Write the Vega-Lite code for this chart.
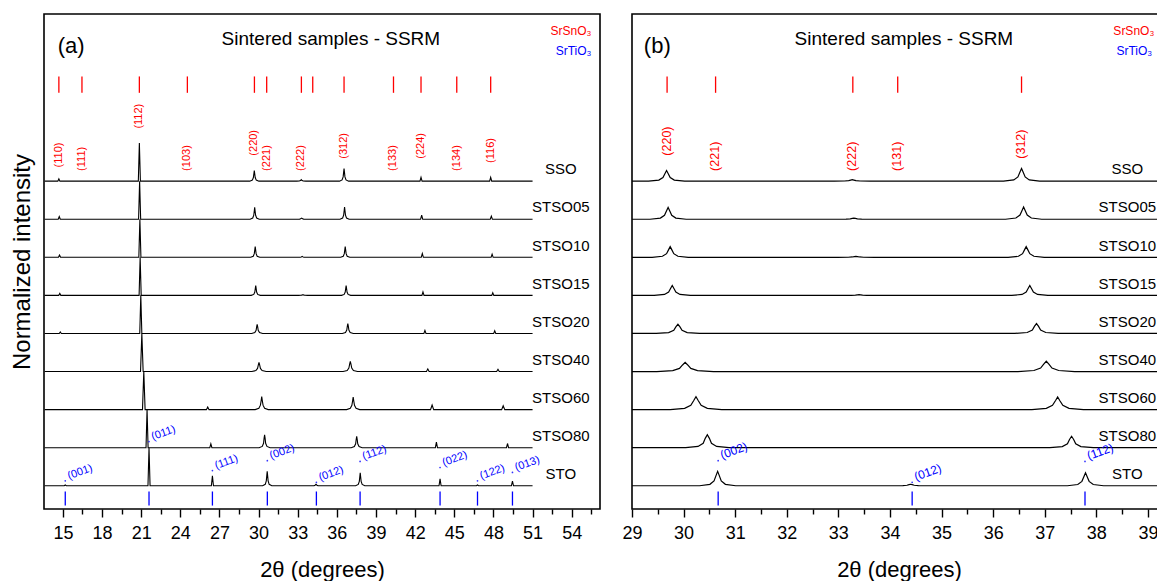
{
"$schema": "https://vega.github.io/schema/vega-lite/v6.json",
"background": "white",
"padding": {"left": 9, "top": 13, "right": -10, "bottom": 0},
"spacing": 20,
"config": {
  "view": {"stroke": "black", "strokeWidth": 1.6},
  "axis": {"domain": false, "grid": false, "tickColor": "black", "tickWidth": 1.4, "labelColor": "black", "titleColor": "black", "labelFont": "Liberation Sans", "titleFont": "Liberation Sans", "titleFontWeight": "normal", "labelFlush": false, "labelOverlap": false},
  "text": {"font": "Liberation Sans"}
},
"datasets": {
"spec": [
{"s":"SSO","x":13.6,"y":8.61},{"s":"SSO","x":14.61,"y":8.61},{"s":"SSO","x":14.69,"y":8.67},{"s":"SSO","x":14.77,"y":8.61},{"s":"SSO","x":20.78,"y":8.61},{"s":"SSO","x":20.86,"y":9.61},{"s":"SSO","x":20.94,"y":8.61},{"s":"SSO","x":29.32,"y":8.61},{"s":"SSO","x":29.52,"y":8.638},{"s":"SSO","x":29.60,"y":8.705},{"s":"SSO","x":29.64,"y":8.812},{"s":"SSO","x":29.67,"y":8.89},{"s":"SSO","x":29.70,"y":8.812},{"s":"SSO","x":29.74,"y":8.705},{"s":"SSO","x":29.82,"y":8.638},{"s":"SSO","x":30.02,"y":8.61},{"s":"SSO","x":32.92,"y":8.61},{"s":"SSO","x":33.12,"y":8.614},{"s":"SSO","x":33.20,"y":8.624},{"s":"SSO","x":33.24,"y":8.639},{"s":"SSO","x":33.27,"y":8.65},{"s":"SSO","x":33.30,"y":8.639},{"s":"SSO","x":33.34,"y":8.624},{"s":"SSO","x":33.42,"y":8.614},{"s":"SSO","x":33.62,"y":8.61},{"s":"SSO","x":36.20,"y":8.61},{"s":"SSO","x":36.40,"y":8.643},{"s":"SSO","x":36.48,"y":8.722},{"s":"SSO","x":36.52,"y":8.848},{"s":"SSO","x":36.55,"y":8.94},{"s":"SSO","x":36.58,"y":8.848},{"s":"SSO","x":36.62,"y":8.722},{"s":"SSO","x":36.70,"y":8.643},{"s":"SSO","x":36.90,"y":8.61},{"s":"SSO","x":42.37,"y":8.61},{"s":"SSO","x":42.45,"y":8.71},{"s":"SSO","x":42.53,"y":8.61},{"s":"SSO","x":47.71,"y":8.61},{"s":"SSO","x":47.79,"y":8.71},{"s":"SSO","x":47.87,"y":8.61},{"s":"SSO","x":51.0,"y":8.61},
{"s":"STSO05","x":13.6,"y":7.61},{"s":"STSO05","x":14.64,"y":7.61},{"s":"STSO05","x":14.72,"y":7.68},{"s":"STSO05","x":14.80,"y":7.61},{"s":"STSO05","x":20.80,"y":7.61},{"s":"STSO05","x":20.88,"y":8.61},{"s":"STSO05","x":20.96,"y":7.61},{"s":"STSO05","x":29.35,"y":7.61},{"s":"STSO05","x":29.55,"y":7.641},{"s":"STSO05","x":29.63,"y":7.715},{"s":"STSO05","x":29.67,"y":7.833},{"s":"STSO05","x":29.70,"y":7.92},{"s":"STSO05","x":29.73,"y":7.833},{"s":"STSO05","x":29.77,"y":7.715},{"s":"STSO05","x":29.85,"y":7.641},{"s":"STSO05","x":30.05,"y":7.61},{"s":"STSO05","x":32.95,"y":7.61},{"s":"STSO05","x":33.15,"y":7.613},{"s":"STSO05","x":33.23,"y":7.62},{"s":"STSO05","x":33.27,"y":7.632},{"s":"STSO05","x":33.30,"y":7.64},{"s":"STSO05","x":33.33,"y":7.632},{"s":"STSO05","x":33.37,"y":7.62},{"s":"STSO05","x":33.45,"y":7.613},{"s":"STSO05","x":33.65,"y":7.61},{"s":"STSO05","x":36.24,"y":7.61},{"s":"STSO05","x":36.44,"y":7.642},{"s":"STSO05","x":36.52,"y":7.719},{"s":"STSO05","x":36.56,"y":7.84},{"s":"STSO05","x":36.59,"y":7.93},{"s":"STSO05","x":36.62,"y":7.84},{"s":"STSO05","x":36.66,"y":7.719},{"s":"STSO05","x":36.74,"y":7.642},{"s":"STSO05","x":36.94,"y":7.61},{"s":"STSO05","x":42.42,"y":7.61},{"s":"STSO05","x":42.50,"y":7.72},{"s":"STSO05","x":42.58,"y":7.61},{"s":"STSO05","x":47.76,"y":7.61},{"s":"STSO05","x":47.84,"y":7.69},{"s":"STSO05","x":47.92,"y":7.61},{"s":"STSO05","x":51.0,"y":7.61},
{"s":"STSO10","x":13.6,"y":6.61},{"s":"STSO10","x":14.66,"y":6.61},{"s":"STSO10","x":14.74,"y":6.67},{"s":"STSO10","x":14.82,"y":6.61},{"s":"STSO10","x":20.82,"y":6.61},{"s":"STSO10","x":20.90,"y":7.61},{"s":"STSO10","x":20.98,"y":6.61},{"s":"STSO10","x":29.39,"y":6.61},{"s":"STSO10","x":29.59,"y":6.638},{"s":"STSO10","x":29.67,"y":6.705},{"s":"STSO10","x":29.71,"y":6.812},{"s":"STSO10","x":29.74,"y":6.89},{"s":"STSO10","x":29.77,"y":6.812},{"s":"STSO10","x":29.81,"y":6.705},{"s":"STSO10","x":29.89,"y":6.638},{"s":"STSO10","x":30.09,"y":6.61},{"s":"STSO10","x":32.99,"y":6.61},{"s":"STSO10","x":33.19,"y":6.612},{"s":"STSO10","x":33.27,"y":6.619},{"s":"STSO10","x":33.31,"y":6.628},{"s":"STSO10","x":33.34,"y":6.635},{"s":"STSO10","x":33.37,"y":6.628},{"s":"STSO10","x":33.41,"y":6.619},{"s":"STSO10","x":33.49,"y":6.612},{"s":"STSO10","x":33.69,"y":6.61},{"s":"STSO10","x":36.29,"y":6.61},{"s":"STSO10","x":36.49,"y":6.638},{"s":"STSO10","x":36.57,"y":6.705},{"s":"STSO10","x":36.61,"y":6.812},{"s":"STSO10","x":36.64,"y":6.89},{"s":"STSO10","x":36.67,"y":6.812},{"s":"STSO10","x":36.71,"y":6.705},{"s":"STSO10","x":36.79,"y":6.638},{"s":"STSO10","x":36.99,"y":6.61},{"s":"STSO10","x":42.47,"y":6.61},{"s":"STSO10","x":42.55,"y":6.71},{"s":"STSO10","x":42.63,"y":6.61},{"s":"STSO10","x":47.82,"y":6.61},{"s":"STSO10","x":47.90,"y":6.69},{"s":"STSO10","x":47.98,"y":6.61},{"s":"STSO10","x":51.0,"y":6.61},
{"s":"STSO15","x":13.6,"y":5.61},{"s":"STSO15","x":14.68,"y":5.61},{"s":"STSO15","x":14.76,"y":5.66},{"s":"STSO15","x":14.84,"y":5.61},{"s":"STSO15","x":20.84,"y":5.61},{"s":"STSO15","x":20.92,"y":6.61},{"s":"STSO15","x":21.00,"y":5.61},{"s":"STSO15","x":29.43,"y":5.61},{"s":"STSO15","x":29.63,"y":5.636},{"s":"STSO15","x":29.71,"y":5.698},{"s":"STSO15","x":29.75,"y":5.797},{"s":"STSO15","x":29.78,"y":5.87},{"s":"STSO15","x":29.81,"y":5.797},{"s":"STSO15","x":29.85,"y":5.698},{"s":"STSO15","x":29.93,"y":5.636},{"s":"STSO15","x":30.13,"y":5.61},{"s":"STSO15","x":33.05,"y":5.61},{"s":"STSO15","x":33.25,"y":5.612},{"s":"STSO15","x":33.33,"y":5.617},{"s":"STSO15","x":33.37,"y":5.624},{"s":"STSO15","x":33.40,"y":5.63},{"s":"STSO15","x":33.43,"y":5.624},{"s":"STSO15","x":33.47,"y":5.617},{"s":"STSO15","x":33.55,"y":5.612},{"s":"STSO15","x":33.75,"y":5.61},{"s":"STSO15","x":36.36,"y":5.61},{"s":"STSO15","x":36.56,"y":5.636},{"s":"STSO15","x":36.64,"y":5.698},{"s":"STSO15","x":36.68,"y":5.797},{"s":"STSO15","x":36.71,"y":5.87},{"s":"STSO15","x":36.74,"y":5.797},{"s":"STSO15","x":36.78,"y":5.698},{"s":"STSO15","x":36.86,"y":5.636},{"s":"STSO15","x":37.06,"y":5.61},{"s":"STSO15","x":42.52,"y":5.61},{"s":"STSO15","x":42.60,"y":5.70},{"s":"STSO15","x":42.68,"y":5.61},{"s":"STSO15","x":47.87,"y":5.61},{"s":"STSO15","x":47.95,"y":5.68},{"s":"STSO15","x":48.03,"y":5.61},{"s":"STSO15","x":51.0,"y":5.61},
{"s":"STSO20","x":13.6,"y":4.61},{"s":"STSO20","x":14.72,"y":4.61},{"s":"STSO20","x":14.80,"y":4.65},{"s":"STSO20","x":14.88,"y":4.61},{"s":"STSO20","x":20.89,"y":4.61},{"s":"STSO20","x":20.97,"y":5.61},{"s":"STSO20","x":21.05,"y":4.61},{"s":"STSO20","x":29.47,"y":4.61},{"s":"STSO20","x":29.71,"y":4.634},{"s":"STSO20","x":29.81,"y":4.692},{"s":"STSO20","x":29.85,"y":4.783},{"s":"STSO20","x":29.89,"y":4.85},{"s":"STSO20","x":29.93,"y":4.783},{"s":"STSO20","x":29.97,"y":4.692},{"s":"STSO20","x":30.07,"y":4.634},{"s":"STSO20","x":30.31,"y":4.61},{"s":"STSO20","x":36.42,"y":4.61},{"s":"STSO20","x":36.66,"y":4.636},{"s":"STSO20","x":36.76,"y":4.698},{"s":"STSO20","x":36.80,"y":4.797},{"s":"STSO20","x":36.84,"y":4.87},{"s":"STSO20","x":36.88,"y":4.797},{"s":"STSO20","x":36.92,"y":4.698},{"s":"STSO20","x":37.02,"y":4.636},{"s":"STSO20","x":37.26,"y":4.61},{"s":"STSO20","x":42.67,"y":4.61},{"s":"STSO20","x":42.75,"y":4.69},{"s":"STSO20","x":42.83,"y":4.61},{"s":"STSO20","x":48.02,"y":4.61},{"s":"STSO20","x":48.10,"y":4.68},{"s":"STSO20","x":48.18,"y":4.61},{"s":"STSO20","x":51.0,"y":4.61},
{"s":"STSO40","x":13.6,"y":3.61},{"s":"STSO40","x":20.95,"y":3.61},{"s":"STSO40","x":21.05,"y":4.61},{"s":"STSO40","x":21.15,"y":3.61},{"s":"STSO40","x":29.48,"y":3.61},{"s":"STSO40","x":29.79,"y":3.634},{"s":"STSO40","x":29.92,"y":3.692},{"s":"STSO40","x":29.98,"y":3.783},{"s":"STSO40","x":30.03,"y":3.85},{"s":"STSO40","x":30.08,"y":3.783},{"s":"STSO40","x":30.14,"y":3.692},{"s":"STSO40","x":30.27,"y":3.634},{"s":"STSO40","x":30.58,"y":3.61},{"s":"STSO40","x":36.48,"y":3.61},{"s":"STSO40","x":36.79,"y":3.637},{"s":"STSO40","x":36.92,"y":3.702},{"s":"STSO40","x":36.98,"y":3.804},{"s":"STSO40","x":37.03,"y":3.88},{"s":"STSO40","x":37.08,"y":3.804},{"s":"STSO40","x":37.14,"y":3.702},{"s":"STSO40","x":37.27,"y":3.637},{"s":"STSO40","x":37.58,"y":3.61},{"s":"STSO40","x":42.87,"y":3.61},{"s":"STSO40","x":42.97,"y":3.68},{"s":"STSO40","x":43.07,"y":3.61},{"s":"STSO40","x":48.25,"y":3.61},{"s":"STSO40","x":48.35,"y":3.67},{"s":"STSO40","x":48.45,"y":3.61},{"s":"STSO40","x":51.0,"y":3.61},
{"s":"STSO60","x":13.6,"y":2.61},{"s":"STSO60","x":21.10,"y":2.61},{"s":"STSO60","x":21.20,"y":3.61},{"s":"STSO60","x":21.30,"y":2.61},{"s":"STSO60","x":26.00,"y":2.61},{"s":"STSO60","x":26.10,"y":2.68},{"s":"STSO60","x":26.20,"y":2.61},{"s":"STSO60","x":29.74,"y":2.61},{"s":"STSO60","x":30.02,"y":2.644},{"s":"STSO60","x":30.14,"y":2.726},{"s":"STSO60","x":30.20,"y":2.855},{"s":"STSO60","x":30.24,"y":2.95},{"s":"STSO60","x":30.28,"y":2.855},{"s":"STSO60","x":30.34,"y":2.726},{"s":"STSO60","x":30.46,"y":2.644},{"s":"STSO60","x":30.74,"y":2.61},{"s":"STSO60","x":36.75,"y":2.61},{"s":"STSO60","x":37.03,"y":2.643},{"s":"STSO60","x":37.15,"y":2.722},{"s":"STSO60","x":37.21,"y":2.848},{"s":"STSO60","x":37.25,"y":2.94},{"s":"STSO60","x":37.29,"y":2.848},{"s":"STSO60","x":37.35,"y":2.722},{"s":"STSO60","x":37.47,"y":2.643},{"s":"STSO60","x":37.75,"y":2.61},{"s":"STSO60","x":43.18,"y":2.61},{"s":"STSO60","x":43.30,"y":2.73},{"s":"STSO60","x":43.42,"y":2.61},{"s":"STSO60","x":48.63,"y":2.61},{"s":"STSO60","x":48.75,"y":2.71},{"s":"STSO60","x":48.87,"y":2.61},{"s":"STSO60","x":51.0,"y":2.61},
{"s":"STSO80","x":13.6,"y":1.61},{"s":"STSO80","x":21.37,"y":1.61},{"s":"STSO80","x":21.45,"y":2.61},{"s":"STSO80","x":21.53,"y":1.61},{"s":"STSO80","x":26.26,"y":1.61},{"s":"STSO80","x":26.34,"y":1.71},{"s":"STSO80","x":26.42,"y":1.61},{"s":"STSO80","x":30.04,"y":1.61},{"s":"STSO80","x":30.28,"y":1.644},{"s":"STSO80","x":30.38,"y":1.726},{"s":"STSO80","x":30.42,"y":1.855},{"s":"STSO80","x":30.46,"y":1.95},{"s":"STSO80","x":30.50,"y":1.855},{"s":"STSO80","x":30.54,"y":1.726},{"s":"STSO80","x":30.64,"y":1.644},{"s":"STSO80","x":30.88,"y":1.61},{"s":"STSO80","x":37.10,"y":1.61},{"s":"STSO80","x":37.34,"y":1.64},{"s":"STSO80","x":37.44,"y":1.712},{"s":"STSO80","x":37.48,"y":1.826},{"s":"STSO80","x":37.52,"y":1.91},{"s":"STSO80","x":37.56,"y":1.826},{"s":"STSO80","x":37.60,"y":1.712},{"s":"STSO80","x":37.70,"y":1.64},{"s":"STSO80","x":37.94,"y":1.61},{"s":"STSO80","x":43.55,"y":1.61},{"s":"STSO80","x":43.63,"y":1.76},{"s":"STSO80","x":43.71,"y":1.61},{"s":"STSO80","x":49.00,"y":1.61},{"s":"STSO80","x":49.08,"y":1.72},{"s":"STSO80","x":49.16,"y":1.61},{"s":"STSO80","x":51.0,"y":1.61},
{"s":"STO","x":13.6,"y":0.61},{"s":"STO","x":15.10,"y":0.61},{"s":"STO","x":15.18,"y":0.63},{"s":"STO","x":15.26,"y":0.61},{"s":"STO","x":21.52,"y":0.61},{"s":"STO","x":21.60,"y":1.61},{"s":"STO","x":21.68,"y":0.61},{"s":"STO","x":26.38,"y":0.61},{"s":"STO","x":26.46,"y":0.87},{"s":"STO","x":26.54,"y":0.61},{"s":"STO","x":30.31,"y":0.61},{"s":"STO","x":30.51,"y":0.648},{"s":"STO","x":30.59,"y":0.739},{"s":"STO","x":30.63,"y":0.884},{"s":"STO","x":30.66,"y":0.99},{"s":"STO","x":30.69,"y":0.884},{"s":"STO","x":30.73,"y":0.739},{"s":"STO","x":30.81,"y":0.648},{"s":"STO","x":31.01,"y":0.61},{"s":"STO","x":34.05,"y":0.61},{"s":"STO","x":34.25,"y":0.614},{"s":"STO","x":34.33,"y":0.624},{"s":"STO","x":34.37,"y":0.639},{"s":"STO","x":34.40,"y":0.65},{"s":"STO","x":34.43,"y":0.639},{"s":"STO","x":34.47,"y":0.624},{"s":"STO","x":34.55,"y":0.614},{"s":"STO","x":34.75,"y":0.61},{"s":"STO","x":37.44,"y":0.61},{"s":"STO","x":37.64,"y":0.644},{"s":"STO","x":37.72,"y":0.726},{"s":"STO","x":37.76,"y":0.855},{"s":"STO","x":37.79,"y":0.95},{"s":"STO","x":37.82,"y":0.855},{"s":"STO","x":37.86,"y":0.726},{"s":"STO","x":37.94,"y":0.644},{"s":"STO","x":38.14,"y":0.61},{"s":"STO","x":43.83,"y":0.61},{"s":"STO","x":43.91,"y":0.79},{"s":"STO","x":43.99,"y":0.61},{"s":"STO","x":46.70,"y":0.61},{"s":"STO","x":46.78,"y":0.63},{"s":"STO","x":46.86,"y":0.61},{"s":"STO","x":49.38,"y":0.61},{"s":"STO","x":49.46,"y":0.73},{"s":"STO","x":49.54,"y":0.61},{"s":"STO","x":51.0,"y":0.61}
],
"red": [{"x":14.69},{"x":16.46},{"x":20.86},{"x":24.54},{"x":29.68},{"x":30.62},{"x":33.28},{"x":34.15},{"x":36.55},{"x":40.34},{"x":42.45},{"x":45.19},{"x":47.79}],
"blue": [{"x":15.18},{"x":21.60},{"x":26.46},{"x":30.67},{"x":34.43},{"x":37.78},{"x":43.91},{"x":46.78},{"x":49.46}],
"redLabA": [{"x":14.69,"y":8.97,"t":"(110)"},{"x":16.46,"y":8.88,"t":"(111)"},{"x":20.86,"y":9.99,"t":"(112)"},{"x":24.54,"y":8.88,"t":"(103)"},{"x":29.68,"y":9.28,"t":"(220)"},{"x":30.62,"y":8.88,"t":"(221)"},{"x":33.28,"y":8.88,"t":"(222)"},{"x":36.55,"y":9.2,"t":"(312)"},{"x":40.34,"y":8.88,"t":"(133)"},{"x":42.45,"y":9.2,"t":"(224)"},{"x":45.19,"y":8.88,"t":"(134)"},{"x":47.79,"y":9.09,"t":"(116)"}],
"redLabB": [{"x":29.67,"y":9.28,"t":"(220)"},{"x":30.61,"y":8.88,"t":"(221)"},{"x":33.27,"y":8.88,"t":"(222)"},{"x":34.13,"y":8.88,"t":"(131)"},{"x":36.54,"y":9.2,"t":"(312)"}],
"blueLab": [{"x":15.18,"y":0.74,"t":"(001)"},{"x":21.60,"y":1.77,"t":"(011)"},{"x":26.46,"y":1.01,"t":"(111)"},{"x":30.67,"y":1.27,"t":"(002)"},{"x":34.43,"y":0.70,"t":"(012)"},{"x":37.78,"y":1.25,"t":"(112)"},{"x":43.91,"y":1.09,"t":"(022)"},{"x":46.78,"y":0.74,"t":"(122)"},{"x":49.46,"y":0.96,"t":"(013)"}],
"names": [{"s":"SSO","y":8.92},{"s":"STSO05","y":7.92},{"s":"STSO10","y":6.92},{"s":"STSO15","y":5.92},{"s":"STSO20","y":4.92},{"s":"STSO40","y":3.92},{"s":"STSO60","y":2.92},{"s":"STSO80","y":1.92},{"s":"STO","y":0.92}]
},
"hconcat": [
{
 "width": 556, "height": 495,
 "resolve": {"axis": {"x": "independent"}},
 "layer": [
  {"data": {"name": "spec"}, "mark": {"type": "line", "color": "black", "strokeWidth": 1.1},
   "encoding": {
    "x": {"field": "x", "type": "quantitative", "scale": {"domain": [13.55, 56.17], "nice": false, "zero": false},
      "axis": {"orient": "bottom", "values": [15,18,21,24,27,30,33,36,39,42,45,48,51,54], "tickSize": 8, "labelFontSize": 18, "labelPadding": 7, "title": "2θ (degrees)", "titleFontSize": 22, "titlePadding": 17}},
    "y": {"field": "y", "type": "quantitative", "scale": {"domain": [0, 13], "nice": false, "zero": false},
      "axis": {"title": "Normalized intensity", "labels": false, "ticks": false, "titleFontSize": 24, "titlePadding": 10}},
    "detail": {"field": "s"}}},
  {"data": {"name": "red"}, "mark": {"type": "rule", "color": "#ff0000", "strokeWidth": 1.3},
   "encoding": {
    "x": {"field": "x", "type": "quantitative", "axis": {"orient": "bottom", "values": [16.5,19.5,22.5,25.5,28.5,31.5,34.5,37.5,40.5,43.5,46.5,49.5,52.5,55.5], "tickSize": 5, "labels": false, "title": null}},
    "y": {"datum": 10.93, "type": "quantitative", "axis": {"title": "Normalized intensity", "labels": false, "ticks": false, "titleFontSize": 24, "titlePadding": 10}}, "y2": {"datum": 11.36}}},
  {"data": {"name": "blue"}, "mark": {"type": "rule", "color": "#0000ff", "strokeWidth": 1.3},
   "encoding": {
    "x": {"field": "x", "type": "quantitative", "axis": null},
    "y": {"datum": 0.09, "type": "quantitative", "axis": {"title": "Normalized intensity", "labels": false, "ticks": false, "titleFontSize": 24, "titlePadding": 10}}, "y2": {"datum": 0.46}}},
  {"data": {"name": "redLabA"}, "mark": {"type": "text", "color": "#ff0000", "fontSize": 11, "angle": 270, "align": "left", "baseline": "middle"},
   "encoding": {"x": {"field": "x", "type": "quantitative", "axis": null}, "y": {"field": "y", "type": "quantitative", "axis": {"title": "Normalized intensity", "labels": false, "ticks": false, "titleFontSize": 24, "titlePadding": 10}}, "text": {"field": "t"}}},
  {"data": {"name": "blueLab"}, "mark": {"type": "text", "color": "#0000ff", "fontSize": 11, "angle": 340, "align": "left", "baseline": "alphabetic", "dx": 4},
   "encoding": {"x": {"field": "x", "type": "quantitative", "axis": null}, "y": {"field": "y", "type": "quantitative", "axis": {"title": "Normalized intensity", "labels": false, "ticks": false, "titleFontSize": 24, "titlePadding": 10}}, "text": {"field": "t"}}},
  {"data": {"name": "blueLab"}, "mark": {"type": "circle", "color": "#0000ff", "size": 3, "opacity": 0.8},
   "encoding": {"x": {"field": "x", "type": "quantitative", "axis": null}, "y": {"field": "y", "type": "quantitative", "axis": {"title": "Normalized intensity", "labels": false, "ticks": false, "titleFontSize": 24, "titlePadding": 10}}}},
  {"data": {"name": "names"}, "mark": {"type": "text", "color": "black", "fontSize": 15, "align": "center", "baseline": "middle"},
   "encoding": {"x": {"datum": 53.17, "type": "quantitative", "axis": null}, "y": {"field": "y", "type": "quantitative", "axis": {"title": "Normalized intensity", "labels": false, "ticks": false, "titleFontSize": 24, "titlePadding": 10}}, "text": {"field": "s"}}},
  {"data": {"values": [{}]}, "mark": {"type": "text", "text": "(a)", "fontSize": 22, "align": "left", "baseline": "middle", "color": "black"},
   "encoding": {"x": {"datum": 14.6, "type": "quantitative", "axis": null}, "y": {"datum": 12.17, "type": "quantitative", "axis": {"title": "Normalized intensity", "labels": false, "ticks": false, "titleFontSize": 24, "titlePadding": 10}}}},
  {"data": {"values": [{}]}, "mark": {"type": "text", "text": "Sintered samples - SSRM", "fontSize": 19, "align": "center", "baseline": "middle", "color": "black"},
   "encoding": {"x": {"datum": 35.54, "type": "quantitative", "axis": null}, "y": {"datum": 12.35, "type": "quantitative", "axis": {"title": "Normalized intensity", "labels": false, "ticks": false, "titleFontSize": 24, "titlePadding": 10}}}},
  {"data": {"values": [{}]}, "mark": {"type": "text", "text": "SrSnO₃", "fontSize": 12, "align": "left", "baseline": "middle", "color": "#ff0000"},
   "encoding": {"x": {"datum": 52.38, "type": "quantitative", "axis": null}, "y": {"datum": 12.56, "type": "quantitative", "axis": {"title": "Normalized intensity", "labels": false, "ticks": false, "titleFontSize": 24, "titlePadding": 10}}}},
  {"data": {"values": [{}]}, "mark": {"type": "text", "text": "SrTiO₃", "fontSize": 12, "align": "left", "baseline": "middle", "color": "#0000ff"},
   "encoding": {"x": {"datum": 52.77, "type": "quantitative", "axis": null}, "y": {"datum": 12.04, "type": "quantitative", "axis": {"title": "Normalized intensity", "labels": false, "ticks": false, "titleFontSize": 24, "titlePadding": 10}}}}
 ]
},
{
 "width": 534, "height": 495,
 "resolve": {"axis": {"x": "independent"}},
 "layer": [
  {"data": {"name": "spec"}, "mark": {"type": "line", "color": "black", "strokeWidth": 1.2, "clip": true},
   "encoding": {
    "x": {"field": "x", "type": "quantitative", "scale": {"domain": [29, 39.35], "nice": false, "zero": false},
      "axis": {"orient": "bottom", "values": [29,30,31,32,33,34,35,36,37,38,39], "tickSize": 8, "labelFontSize": 18, "labelPadding": 7, "title": "2θ (degrees)", "titleFontSize": 22, "titlePadding": 17}},
    "y": {"field": "y", "type": "quantitative", "scale": {"domain": [0, 13], "nice": false, "zero": false}, "axis": null},
    "detail": {"field": "s"}}},
  {"data": {"name": "red"}, "transform": [{"filter": "datum.x > 29 && datum.x < 39.3"}], "mark": {"type": "rule", "color": "#ff0000", "strokeWidth": 1.3},
   "encoding": {
    "x": {"field": "x", "type": "quantitative", "axis": {"orient": "bottom", "values": [29.5,30.5,31.5,32.5,33.5,34.5,35.5,36.5,37.5,38.5], "tickSize": 5, "labels": false, "title": null}},
    "y": {"datum": 10.93, "type": "quantitative", "axis": null}, "y2": {"datum": 11.36}}},
  {"data": {"name": "blue"}, "transform": [{"filter": "datum.x > 29 && datum.x < 39.3"}], "mark": {"type": "rule", "color": "#0000ff", "strokeWidth": 1.3},
   "encoding": {
    "x": {"field": "x", "type": "quantitative", "axis": null},
    "y": {"datum": 0.09, "type": "quantitative", "axis": null}, "y2": {"datum": 0.46}}},
  {"data": {"name": "redLabB"}, "mark": {"type": "text", "color": "#ff0000", "fontSize": 12.5, "angle": 270, "align": "left", "baseline": "middle"},
   "encoding": {"x": {"field": "x", "type": "quantitative", "axis": null}, "y": {"field": "y", "type": "quantitative", "axis": null}, "text": {"field": "t"}}},
  {"data": {"name": "blueLab"}, "transform": [{"filter": "datum.x > 29 && datum.x < 39.3"}], "mark": {"type": "text", "color": "#0000ff", "fontSize": 12, "angle": 340, "align": "left", "baseline": "alphabetic", "dx": 4},
   "encoding": {"x": {"field": "x", "type": "quantitative", "axis": null}, "y": {"field": "y", "type": "quantitative", "axis": null}, "text": {"field": "t"}}},
  {"data": {"name": "blueLab"}, "transform": [{"filter": "datum.x > 29 && datum.x < 39.3"}], "mark": {"type": "circle", "color": "#0000ff", "size": 3, "opacity": 0.8},
   "encoding": {"x": {"field": "x", "type": "quantitative", "axis": null}, "y": {"field": "y", "type": "quantitative", "axis": null}}},
  {"data": {"name": "names"}, "mark": {"type": "text", "color": "black", "fontSize": 15, "align": "center", "baseline": "middle"},
   "encoding": {"x": {"datum": 38.6, "type": "quantitative", "axis": null}, "y": {"field": "y", "type": "quantitative", "axis": null}, "text": {"field": "s"}}},
  {"data": {"values": [{}]}, "mark": {"type": "text", "text": "(b)", "fontSize": 22, "align": "left", "baseline": "middle", "color": "black"},
   "encoding": {"x": {"datum": 29.23, "type": "quantitative", "axis": null}, "y": {"datum": 12.17, "type": "quantitative", "axis": null}}},
  {"data": {"values": [{}]}, "mark": {"type": "text", "text": "Sintered samples - SSRM", "fontSize": 19, "align": "center", "baseline": "middle", "color": "black"},
   "encoding": {"x": {"datum": 34.27, "type": "quantitative", "axis": null}, "y": {"datum": 12.35, "type": "quantitative", "axis": null}}},
  {"data": {"values": [{}]}, "mark": {"type": "text", "text": "SrSnO₃", "fontSize": 12, "align": "left", "baseline": "middle", "color": "#ff0000"},
   "encoding": {"x": {"datum": 38.33, "type": "quantitative", "axis": null}, "y": {"datum": 12.56, "type": "quantitative", "axis": null}}},
  {"data": {"values": [{}]}, "mark": {"type": "text", "text": "SrTiO₃", "fontSize": 12, "align": "left", "baseline": "middle", "color": "#0000ff"},
   "encoding": {"x": {"datum": 38.39, "type": "quantitative", "axis": null}, "y": {"datum": 12.04, "type": "quantitative", "axis": null}}}
 ]
}
]
}
